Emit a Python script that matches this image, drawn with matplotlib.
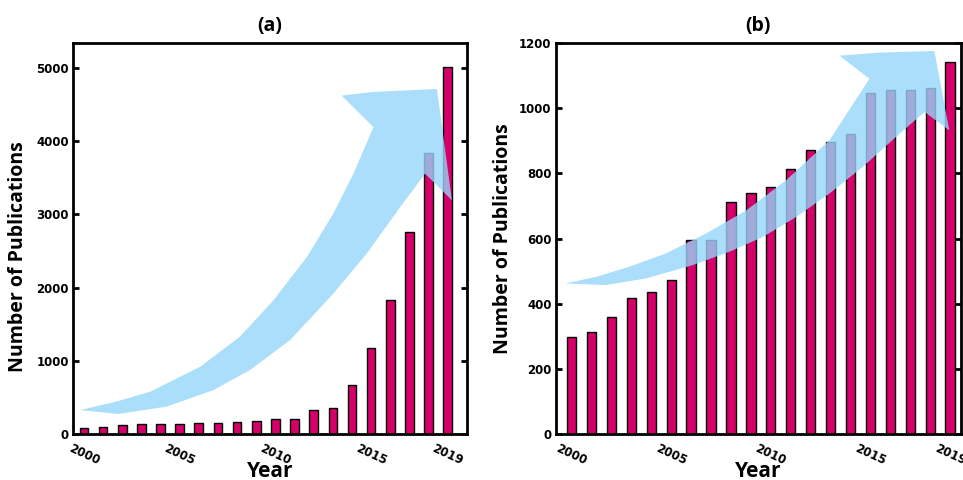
import matplotlib.pyplot as plt
from matplotlib.patches import Polygon
from matplotlib.transforms import ScaledTranslation
import numpy as np

# Publication counts per year
years = np.arange(2000, 2020)
pubs_a = [82, 91, 128, 142, 142, 142, 146, 150, 164, 183,
          201, 201, 324, 356, 671, 1174, 1836, 2753, 3840, 5018]
pubs_b = [298, 314, 360, 416, 437, 473, 596, 596, 711, 740,
          757, 815, 872, 897, 921, 1048, 1056, 1056, 1063, 1141]
tick_years = [2000, 2005, 2010, 2015, 2019]
panel_titles = ['(a)', '(b)']

bar_color = '#d6006a'
arrow_color = '#95d6f9'

# Curved "growth" arrow outlines, in axes fraction (decoration only)
arrow_a = [(0.018, 0.061), (0.111, 0.083), (0.196, 0.108), (0.323, 0.172),
           (0.424, 0.249), (0.509, 0.342), (0.594, 0.453), (0.661, 0.564),
           (0.712, 0.666), (0.763, 0.785), (0.682, 0.866), (0.760, 0.875),
           (0.924, 0.883), (0.962, 0.598), (0.894, 0.666), (0.831, 0.581),
           (0.746, 0.462), (0.661, 0.359), (0.551, 0.240), (0.450, 0.164),
           (0.356, 0.112), (0.238, 0.070), (0.115, 0.051)]
arrow_b = [(0.024, 0.385), (0.100, 0.402), (0.182, 0.428), (0.272, 0.462),
           (0.371, 0.513), (0.470, 0.572), (0.568, 0.649), (0.675, 0.751),
           (0.774, 0.909), (0.700, 0.968), (0.800, 0.976), (0.934, 0.980),
           (0.971, 0.777), (0.910, 0.824), (0.848, 0.768), (0.757, 0.683),
           (0.675, 0.615), (0.593, 0.555), (0.511, 0.504), (0.428, 0.466),
           (0.338, 0.432), (0.223, 0.398), (0.124, 0.381)]

fig = plt.figure(figsize=(9.63, 4.8), dpi=100)
ax_a = fig.add_axes([0.0758, 0.096, 0.409, 0.814])
ax_b = fig.add_axes([0.577, 0.096, 0.421, 0.814])

label_font = {'family': 'Open Sans', 'weight': 'bold'}


def style_panel(ax, values, width, xlim, ylim, yticks, title, arrow, ylab_xy):
    ax.bar(years, values, width=width, color=bar_color, edgecolor='black',
           linewidth=1.0, zorder=2)
    ax.set_xlim(*xlim)
    ax.set_ylim(*ylim)
    ax.set_yticks(yticks)
    ax.set_xticks(tick_years)
    ax.set_xticklabels([str(y) for y in tick_years], rotation=-25,
                       ha='center', fontsize=8.5, fontweight='bold',
                       family='DejaVu Sans')
    # nudge the slanted year labels a little to the right, like the original
    shift = ScaledTranslation(0.06, 0, fig.dpi_scale_trans)
    for lbl in ax.get_xticklabels():
        lbl.set_transform(lbl.get_transform() + shift)
    ax.set_yticklabels([str(v) for v in yticks], fontsize=8.5,
                       fontweight='bold', family='DejaVu Sans')
    ax.tick_params(axis='y', direction='in', length=4, width=2,
                   right=True, pad=3)
    ax.tick_params(axis='x', length=0, pad=6)
    for sp in ax.spines.values():
        sp.set_linewidth(2.0)
    ax.set_xlabel('Year', fontsize=15, labelpad=-5, **label_font)
    ax.set_ylabel('Number of Publications', fontsize=14, **label_font)
    ax.yaxis.set_label_coords(*ylab_xy)
    ax.set_title(title, fontsize=14, pad=9, **label_font)
    ax.add_patch(Polygon(arrow, closed=True, transform=ax.transAxes,
                         facecolor=arrow_color, edgecolor='none',
                         alpha=0.8, zorder=3))


style_panel(ax_a, pubs_a, 0.45, (1999.43, 2020.0), (0, 5340),
            [0, 1000, 2000, 3000, 4000, 5000], panel_titles[0], arrow_a,
            (-0.114, 0.453))
style_panel(ax_b, pubs_b, 0.47, (1999.2, 2019.55), (0, 1200),
            [0, 200, 400, 600, 800, 1000, 1200], panel_titles[1], arrow_b,
            (-0.106, 0.50))

fig.savefig('out.png', dpi=100)
